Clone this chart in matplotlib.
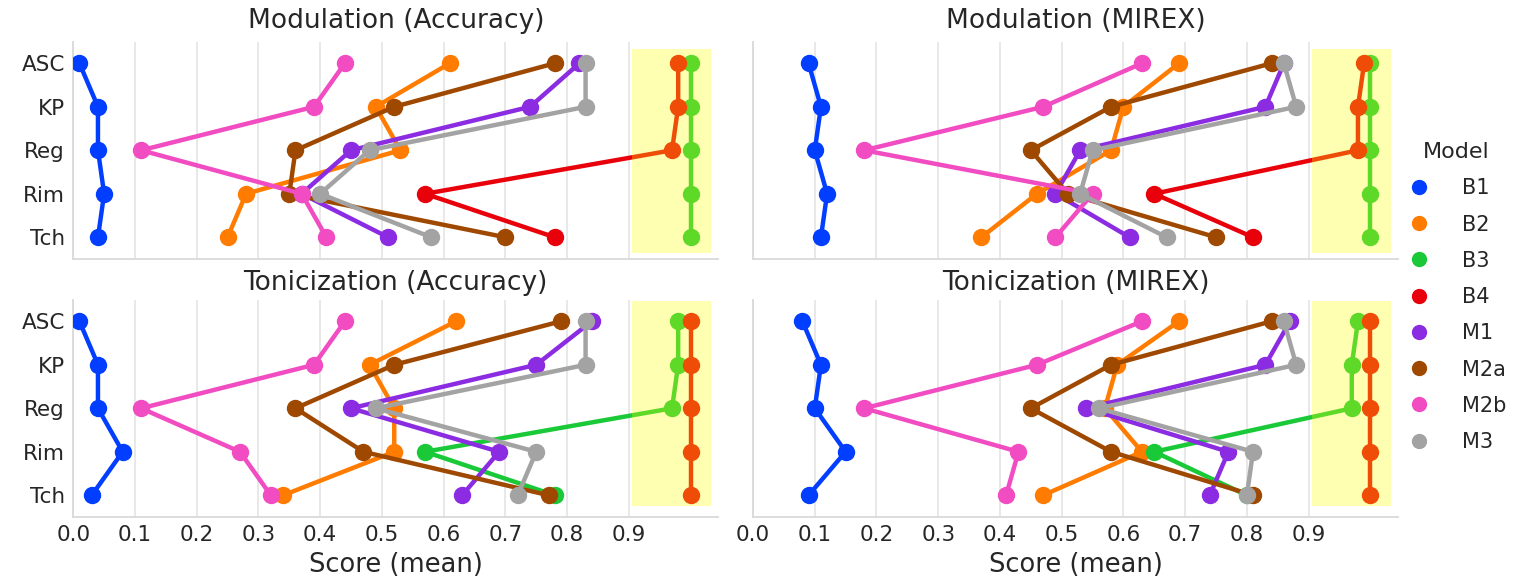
import numpy as np
import matplotlib
matplotlib.use("Agg")
import matplotlib.pyplot as plt
from matplotlib.lines import Line2D

# categories and models
tasks = ["ASC", "KP", "Reg", "Rim", "Tch"]
models = ["B1", "B2", "B3", "B4", "M1", "M2a", "M2b", "M3"]
colors = ["#023eff", "#ff7c00", "#1ac938", "#e8000b",
          "#8b2be2", "#9f4800", "#f14cc1", "#a3a3a3"]

# mean scores, one list per model (order = tasks)
mod_acc = {
    "B1": [0.01, 0.04, 0.04, 0.05, 0.04],
    "B2": [0.61, 0.49, 0.53, 0.28, 0.25],
    "B3": [1.00, 1.00, 1.00, 1.00, 1.00],
    "B4": [0.98, 0.98, 0.97, 0.57, 0.78],
    "M1": [0.82, 0.74, 0.45, 0.37, 0.51],
    "M2a": [0.78, 0.52, 0.36, 0.35, 0.70],
    "M2b": [0.44, 0.39, 0.11, 0.37, 0.41],
    "M3": [0.83, 0.83, 0.48, 0.40, 0.58],
}
mod_mirex = {
    "B1": [0.09, 0.11, 0.10, 0.12, 0.11],
    "B2": [0.69, 0.60, 0.58, 0.46, 0.37],
    "B3": [1.00, 1.00, 1.00, 1.00, 1.00],
    "B4": [0.99, 0.98, 0.98, 0.65, 0.81],
    "M1": [0.86, 0.83, 0.53, 0.49, 0.61],
    "M2a": [0.84, 0.58, 0.45, 0.51, 0.75],
    "M2b": [0.63, 0.47, 0.18, 0.55, 0.49],
    "M3": [0.86, 0.88, 0.55, 0.53, 0.67],
}
ton_acc = {
    "B1": [0.01, 0.04, 0.04, 0.08, 0.03],
    "B2": [0.62, 0.48, 0.52, 0.52, 0.34],
    "B3": [0.98, 0.98, 0.97, 0.57, 0.78],
    "B4": [1.00, 1.00, 1.00, 1.00, 1.00],
    "M1": [0.84, 0.75, 0.45, 0.69, 0.63],
    "M2a": [0.79, 0.52, 0.36, 0.47, 0.77],
    "M2b": [0.44, 0.39, 0.11, 0.27, 0.32],
    "M3": [0.83, 0.83, 0.49, 0.75, 0.72],
}
ton_mirex = {
    "B1": [0.08, 0.11, 0.10, 0.15, 0.09],
    "B2": [0.69, 0.59, 0.57, 0.63, 0.47],
    "B3": [0.98, 0.97, 0.97, 0.65, 0.80],
    "B4": [1.00, 1.00, 1.00, 1.00, 1.00],
    "M1": [0.87, 0.83, 0.54, 0.77, 0.74],
    "M2a": [0.84, 0.58, 0.45, 0.58, 0.81],
    "M2b": [0.63, 0.46, 0.18, 0.43, 0.41],
    "M3": [0.86, 0.88, 0.56, 0.81, 0.80],
}

panels = [
    ("Modulation (Accuracy)", mod_acc),
    ("Modulation (MIREX)", mod_mirex),
    ("Tonicization (Accuracy)", ton_acc),
    ("Tonicization (MIREX)", ton_mirex),
]

text_color = "#262626"
plt.rcParams["font.family"] = ["DejaVu Sans"]
plt.rcParams["text.color"] = text_color

fig = plt.figure(figsize=(15.17, 5.79), dpi=100)

# axes rectangles (fig fraction)
lefts = [0.0483, 0.4964]
bottoms = [0.5527, 0.1071]
w, h = 0.4252, 0.3755
# yellow band vertical extent per row
spans = [(0.028, 0.968), (0.051, 0.995)]
title_pads = [10, 7]

y = np.arange(len(tasks))
for i, (title, data) in enumerate(panels):
    row, col = divmod(i, 2)
    ax = fig.add_axes([lefts[col], bottoms[row], w, h])
    for m, c in zip(models, colors):
        ax.plot(data[m], y, color=c, lw=3.2, marker="o", ms=11.5, zorder=3)
    # highlight band drawn over the lines
    ax.axvspan(0.905, 1.033, ymin=spans[row][0], ymax=spans[row][1],
               color="yellow", alpha=0.3, lw=0, zorder=4)
    ax.set_xlim(0, 1.045)
    ax.set_ylim(len(tasks) - 0.5, -0.5)
    ax.set_xticks(np.arange(0, 1.0, 0.1))
    ax.set_yticks(y)
    ax.grid(True, axis="x", color="#e6e6e6", lw=1.3, zorder=0)
    ax.set_axisbelow(True)
    for s in ["top", "right"]:
        ax.spines[s].set_visible(False)
    for s in ["left", "bottom"]:
        ax.spines[s].set_color("#d9d9d9")
        ax.spines[s].set_linewidth(1.3)
    ax.tick_params(length=0, labelsize=15.5, labelcolor=text_color, pad=6)
    if col == 0:
        ax.set_yticklabels(tasks)
    else:
        ax.set_yticklabels([])
    if row == 0:
        ax.set_xticklabels([])
    else:
        ax.set_xticklabels([f"{v:.1f}" for v in np.arange(0, 1.0, 0.1)])
        ax.set_xlabel("Score (mean)", fontsize=18.5, color=text_color, labelpad=5)
    ax.set_title(title, fontsize=19, color=text_color, pad=title_pads[row])

handles = [Line2D([], [], ls="", marker="o", ms=10, color=c) for c in colors]
fig.legend(handles, models, title="Model", loc="center left",
           bbox_to_anchor=(0.9145, 0.487), frameon=False, fontsize=15,
           title_fontsize=16, labelspacing=0.78, handletextpad=1.5,
           handlelength=1.2)

fig.savefig("out.png", dpi=100)
